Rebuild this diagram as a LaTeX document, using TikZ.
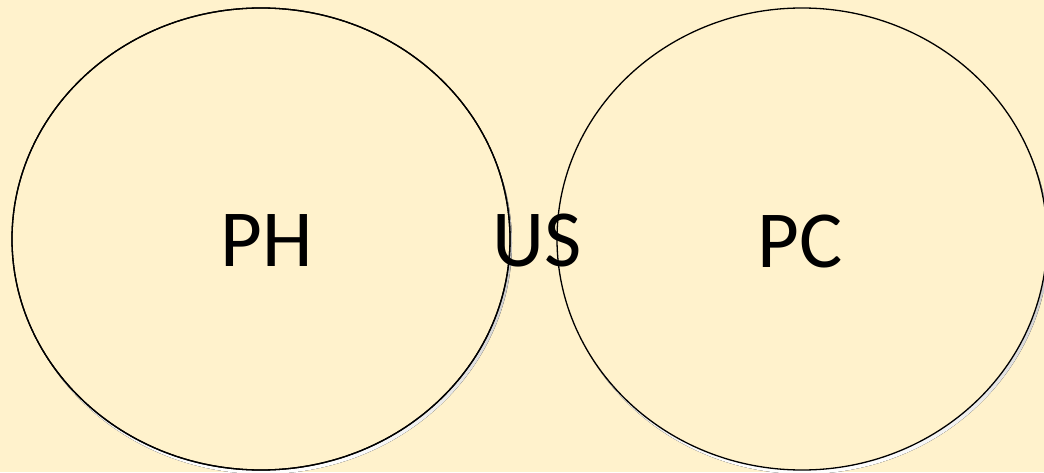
\documentclass[tikz,border=0pt]{standalone}
\usepackage{fontspec}
\setmainfont{Carlito}
\definecolor{bg}{HTML}{FFF2CC}
\definecolor{shade}{HTML}{E6D9B5}
\begin{document}
\begin{tikzpicture}[x=1pt,y=1pt,
  lbl/.style={font=\fontsize{81}{81}\selectfont,inner sep=0pt}]
\fill[bg] (0,0) rectangle (1044,472);
\useasboundingbox (0,0) rectangle (1044,472);
\fill[shade] (263,229) ellipse [x radius=249, y radius=231];
\draw[line width=1.3pt,fill=bg] (261,233) ellipse [x radius=249, y radius=231];
\fill[shade] (804,229) ellipse [x radius=245, y radius=231];
\draw[line width=1.3pt,fill=bg] (802,233) ellipse [x radius=245, y radius=231];
\draw[line width=1.3pt] (261,233) ellipse [x radius=249, y radius=231];
\node[lbl] (ph) at (267,231) {PH};
\node[lbl] (us) at (537,231) {US};
\node[lbl] (pc) at (800,231) {PC};
\end{tikzpicture}
\end{document}
